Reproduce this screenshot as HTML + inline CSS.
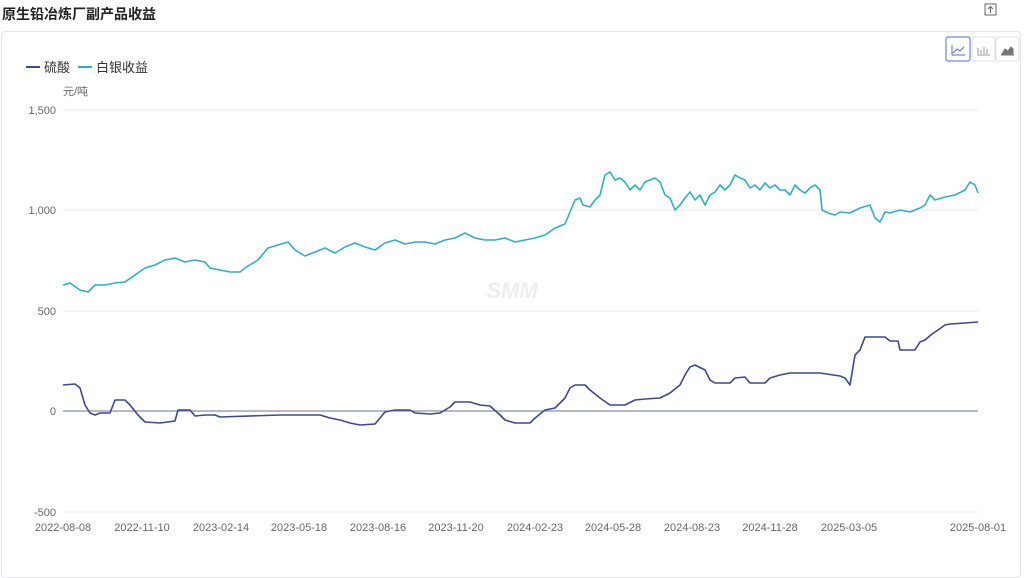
<!DOCTYPE html>
<html><head><meta charset="utf-8"><style>
body{margin:0;width:1024px;height:569px;background:#fff;font-family:"Liberation Sans","Noto Sans CJK SC",sans-serif;overflow:hidden;position:relative}
.t{position:absolute;left:2px;top:4px;font-size:14px;font-weight:bold;color:#222}
.card{position:absolute;left:1px;top:31px;width:1018px;height:545px;border:1px solid #e3e6ee;border-radius:4px}
</style></head><body>
<div class="t">原生铅冶炼厂副产品收益</div>
<div class="card"></div>
<svg width="1024" height="569" style="position:absolute;left:0;top:0" font-family="Liberation Sans, Noto Sans CJK SC, sans-serif">
<rect x="985" y="4" width="11" height="11" fill="none" stroke="#666" stroke-width="1"/>
<path d="M990.5 13V7M988 9l2.5-2.5 2.5 2.5" stroke="#666" fill="none"/>
<rect x="946" y="37" width="24" height="24" fill="#fff" stroke="#4a6fd0" rx="2"/>
<path d="M952 55h13M952 55V45M953 53l4-4 3 2 4-4" stroke="#4a6fd0" fill="none"/>
<rect x="972" y="37" width="23" height="24" fill="#fff" stroke="#dde" rx="2"/>
<path d="M977 55h13M978 54v-6M981 54v-4M984 54v-7M987 54v-5" stroke="#999" fill="none"/>
<rect x="996" y="37" width="23" height="24" fill="#fff" stroke="#dde" rx="2"/>
<path d="M1001 55h13M1002 54l3-5 3 2 3-4 2 2v5z" stroke="#777" fill="#777"/>
<line x1="26" y1="67" x2="40" y2="67" stroke="#3b4a8f" stroke-width="2"/>
<text x="44" y="72" font-size="13" fill="#333">硫酸</text>
<line x1="78" y1="67" x2="92" y2="67" stroke="#2eb0c4" stroke-width="2"/>
<text x="96" y="72" font-size="13" fill="#333">白银收益</text>
<text x="63" y="95" font-size="11" fill="#666">元/吨</text>
<g stroke="#e8eaef" stroke-width="1">
<line x1="63" y1="110" x2="978" y2="110"/><line x1="63" y1="210" x2="978" y2="210"/><line x1="63" y1="311" x2="978" y2="311"/><line x1="63" y1="512" x2="978" y2="512"/>
</g>
<line x1="63" y1="411" x2="978" y2="411" stroke="#6e7590" stroke-width="1"/>
<g font-size="11" fill="#666" text-anchor="end">
<text x="56" y="114">1,500</text><text x="56" y="214">1,000</text><text x="56" y="315">500</text><text x="56" y="415">0</text><text x="56" y="516">-500</text>
</g>
<g font-size="11" fill="#666" text-anchor="middle">
<text x="63" y="531">2022-08-08</text><text x="142" y="531">2022-11-10</text><text x="221" y="531">2023-02-14</text><text x="299" y="531">2023-05-18</text><text x="378" y="531">2023-08-16</text><text x="456" y="531">2023-11-20</text><text x="535" y="531">2024-02-23</text><text x="613" y="531">2024-05-28</text><text x="692" y="531">2024-08-23</text><text x="770" y="531">2024-11-28</text><text x="849" y="531">2025-03-05</text><text x="978" y="531">2025-08-01</text>
</g>
<text x="512" y="298" font-size="22" font-weight="bold" fill="#eee" text-anchor="middle" font-style="italic">SMM</text>
<polyline fill="none" stroke="#2eb0c4" stroke-width="1.6" stroke-linejoin="round" points="63,285 70,283 80,290 88,292 95,285 105,285 115,283 125,282 135,275 145,268 155,265 165,260 175,258 185,262 195,260 205,262 210,268 220,270 230,272 240,272 248,266 258,260 268,248 278,245 288,242 295,250 305,256 315,252 325,248 335,253 345,247 355,243 365,247 375,250 385,243 395,240 405,244 415,242 425,242 435,244 445,240 455,238 465,233 475,238 485,240 495,240 505,238 515,242 525,240 535,238 545,235 555,228 565,224 570,212 575,200 580,198 583,205 590,207 595,200 600,195 605,175 610,172 615,180 620,178 625,182 630,190 635,185 640,190 645,182 650,180 655,178 660,182 665,195 670,198 675,210 680,205 685,198 690,192 695,200 700,195 705,205 710,195 715,192 720,185 725,190 730,185 735,175 740,178 745,180 750,188 755,185 760,190 765,183 770,188 775,185 780,190 785,190 790,195 795,185 800,190 805,193 810,188 815,185 820,190 822,210 828,213 835,215 840,212 850,213 860,208 870,205 875,218 880,222 885,212 890,213 900,210 910,212 920,208 925,205 930,195 935,200 945,197 955,195 965,190 970,182 975,185 978,193"/>
<polyline fill="none" stroke="#3b4a8f" stroke-width="1.6" stroke-linejoin="round" points="63,385 75,384 80,388 85,405 90,413 95,415 100,413 110,413 115,400 125,400 130,405 138,415 145,422 160,423 175,421 178,410 190,410 195,416 205,415 215,415 220,417 280,415 320,415 330,418 340,420 350,423 360,425 375,424 380,418 385,412 395,410 410,410 415,413 430,414 440,413 450,407 455,402 470,402 480,405 490,406 500,415 505,420 515,423 530,423 535,418 545,410 555,408 565,398 570,388 575,385 585,385 590,390 600,398 610,405 625,405 635,400 645,399 660,398 670,393 680,385 685,375 690,367 695,365 705,370 710,380 715,383 730,383 735,378 745,377 750,383 765,383 770,378 780,375 790,373 820,373 840,376 845,378 850,385 855,355 860,350 865,337 885,337 890,341 898,341 900,350 915,350 920,342 925,340 932,334 938,330 945,325 950,324 965,323 978,322"/>
</svg>
</body></html>
